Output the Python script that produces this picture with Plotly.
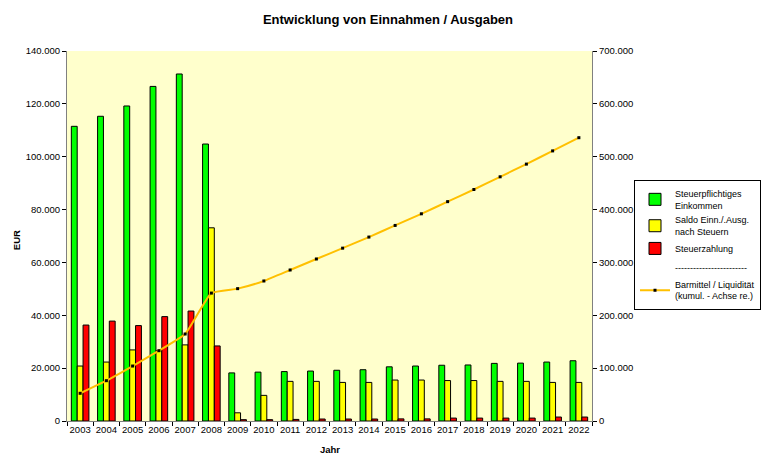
import plotly.graph_objects as go

years = [str(y) for y in range(2003, 2023)]
einkommen = [111.5, 115.3, 119.2, 126.6, 131.3, 104.8, 18.2, 18.5, 18.7, 18.9,
             19.2, 19.4, 20.5, 20.8, 21.1, 21.2, 21.8, 21.9, 22.3, 22.8]
saldo = [20.8, 22.3, 26.9, 26.6, 28.8, 73.1, 3.1, 9.7, 15.0, 15.0,
         14.6, 14.6, 15.5, 15.5, 15.3, 15.3, 15.0, 15.0, 14.6, 14.6]
steuer = [36.3, 37.8, 36.1, 39.5, 41.6, 28.4, 0.5, 0.5, 0.6, 0.75,
          0.75, 0.75, 0.8, 0.8, 1.1, 1.1, 1.1, 1.1, 1.5, 1.5]
barmittel = [52.4, 76.3, 104.0, 133.0, 164.6, 242.0, 250.4, 264.9, 285.7, 306.5,
             327.0, 348.0, 370.0, 392.0, 415.0, 438.0, 462.0, 486.0, 511.0, 536.0]

k = lambda v: [x * 1000 for x in v]

FONT = "Liberation Sans, Arial, sans-serif"
fig = go.Figure()
fig.add_trace(go.Bar(x=years, y=k(einkommen), name="Steuerpflichtiges<br>Einkommen",
                     marker=dict(color="#00FF00", line=dict(color="black", width=1))))
fig.add_trace(go.Bar(x=years, y=k(saldo), name="Saldo Einn./.Ausg.<br>nach Steuern",
                     marker=dict(color="#FFFF00", line=dict(color="black", width=1))))
fig.add_trace(go.Bar(x=years, y=k(steuer), name="Steuerzahlung",
                     marker=dict(color="#FF0000", line=dict(color="black", width=1))))
fig.add_trace(go.Scatter(x=[years[0]], y=[None], mode="lines", name="------------------------",
                         line=dict(color="rgba(0,0,0,0)"), hoverinfo="skip"))
fig.add_trace(go.Scatter(x=years, y=k(barmittel), yaxis="y2", mode="lines+markers",
                         name="Barmittel / Liquidität<br>(kumul. - Achse re.)",
                         line=dict(color="#FFC000", width=2, shape="spline", smoothing=0.4),
                         marker=dict(color="black", size=3, symbol="square")))

TICKF = dict(size=9.5, family=FONT)
fig.update_layout(
    width=767, height=450,
    margin=dict(l=59, r=183, t=43, b=37, autoexpand=False),
    paper_bgcolor="white", plot_bgcolor="#FFFFCC",
    separators=",.",
    font=dict(family=FONT, size=9.5, color="black"),
    title=dict(text="<b>Entwicklung von Einnahmen / Ausgaben</b>", x=0.4954, xref="container",
               xanchor="center", y=0.975, yref="container", yanchor="middle",
               font=dict(size=13, family=FONT)),
    barmode="group", bargap=0.33, bargroupgap=0,
    showlegend=True,
    legend=dict(x=1.08, y=0.651, xanchor="left", yanchor="top", bgcolor="white",
                bordercolor="black", borderwidth=1, font=dict(size=9, family=FONT),
                tracegroupgap=0, traceorder="normal", itemwidth=30),
    xaxis=dict(type="category", range=[-0.5, 19.5], tickson="boundaries", ticks="outside",
               ticklen=4, tickcolor="black", showline=True, linecolor="gray", linewidth=1,
               showgrid=False, tickangle=0, automargin=False, tickfont=TICKF),
    yaxis=dict(range=[0, 140000], dtick=20000, tickformat=",d", ticks="outside", ticklen=4,
               tickcolor="black", showline=True, linecolor="gray", linewidth=1,
               showgrid=False, zeroline=False, automargin=False, tickfont=TICKF),
    yaxis2=dict(range=[0, 700000], dtick=100000, tickformat=",d", ticks="outside", ticklen=4,
                tickcolor="black", showline=True, linecolor="gray", linewidth=1,
                showgrid=False, zeroline=False, overlaying="y", side="right",
                automargin=False, tickfont=TICKF),
    annotations=[
        dict(text="<b>EUR</b>", xref="paper", yref="paper", x=-0.097, y=0.489,
             xanchor="center", yanchor="middle", textangle=-90, showarrow=False,
             font=dict(size=9.5)),
        dict(text="<b>Jahr</b>", xref="paper", yref="paper", x=0.501, y=-0.078,
             xanchor="center", yanchor="middle", showarrow=False, font=dict(size=9.5)),
    ],
)

fig.write_html("out.html")
